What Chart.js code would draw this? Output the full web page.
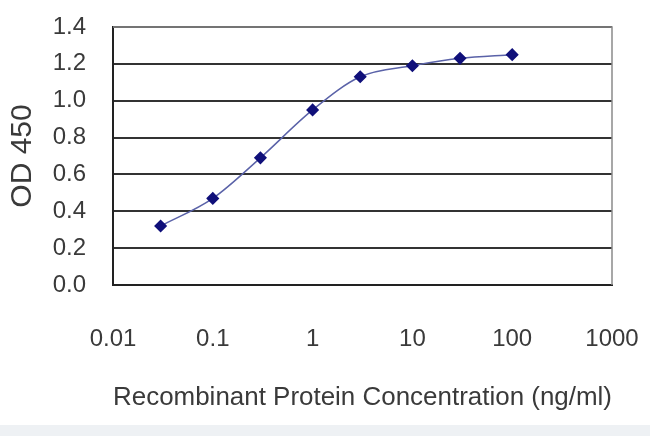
<!DOCTYPE html>
<html>
<head>
<meta charset="utf-8">
<script src="https://cdn.jsdelivr.net/npm/chart.js@4"></script>
<style>
  body { margin: 0; background: #fff; }
  #wrap { width: 650px; height: 425px; position: relative; }
  #strip { width: 650px; height: 11px; background: #eef1f4; }
</style>
</head>
<body>
<div id="wrap"><canvas id="c" width="650" height="425"></canvas></div>
<div id="strip"></div>
<script>
// concentrations (ng/ml) and OD450 readings
const conc = [0.03, 0.1, 0.3, 1, 3, 10, 30, 100];
const od   = [0.32, 0.47, 0.69, 0.95, 1.13, 1.19, 1.23, 1.25];
const xTicks = [0.01, 0.1, 1, 10, 100, 1000];
const yTicks = [0, 0.2, 0.4, 0.6, 0.8, 1.0, 1.2, 1.4];

const FONT = '"Liberation Sans", Arial, sans-serif';
const TXT = '#3a3a3a';

new Chart(document.getElementById('c'), {
  type: 'line',
  data: {
    datasets: [{
      data: conc.map((x, i) => ({ x, y: od[i] })),
      borderColor: '#5a62a8', borderWidth: 1.5,
      pointStyle: 'rectRot', pointRadius: 5.5,
      pointBackgroundColor: '#10107a', pointBorderColor: '#10107a',
      tension: 0.4, cubicInterpolationMode: 'monotone',
    }],
  },
  options: {
    responsive: false, animation: false,
    layout: { padding: { top: 27, right: 38, bottom: 0, left: 0 } },
    plugins: { legend: { display: false }, tooltip: { enabled: false } },
    scales: {
      x: {
        type: 'logarithmic', min: 0.01, max: 1000,
        afterBuildTicks: s => { s.ticks = xTicks.map(v => ({ value: v })); },
        afterFit: s => { s.height = 140; },
        grid: { display: false, drawTicks: true, tickLength: 38 },
        border: { color: '#222', width: 2 },
        ticks: { padding: 2, color: TXT, font: { family: FONT, size: 24 },
                 callback: v => String(v), maxRotation: 0, autoSkip: false },
        title: { display: true, text: 'Recombinant Protein Concentration (ng/ml)',
                 color: TXT, font: { family: FONT, size: 26 }, padding: { top: 0, bottom: 12 } },
      },
      y: {
        min: 0, max: 1.4,
        afterBuildTicks: s => { s.ticks = yTicks.map(v => ({ value: v })); },
        afterFit: s => { s.width = 113; },
        grid: { color: '#333', lineWidth: 2, drawTicks: true, tickLength: 25, tickColor: 'rgba(0,0,0,0)' },
        border: { color: '#222', width: 2 },
        ticks: { padding: 2, color: TXT, font: { family: FONT, size: 24 },
                 callback: v => v.toFixed(1) },
        title: { display: true, text: 'OD 450', color: TXT,
                 font: { family: FONT, size: 30 }, padding: { top: 5, bottom: 0 } },
      },
    },
  },
  plugins: [{
    id: 'frame',
    afterDraw(chart) {
      const { ctx, chartArea: a } = chart;
      ctx.save();
      ctx.strokeStyle = '#8a8a8a'; ctx.lineWidth = 1.5;
      ctx.beginPath();
      ctx.moveTo(a.left, a.top); ctx.lineTo(a.right, a.top); ctx.lineTo(a.right, a.bottom);
      ctx.stroke();
      ctx.restore();
    },
  }],
});
</script>
</body>
</html>
